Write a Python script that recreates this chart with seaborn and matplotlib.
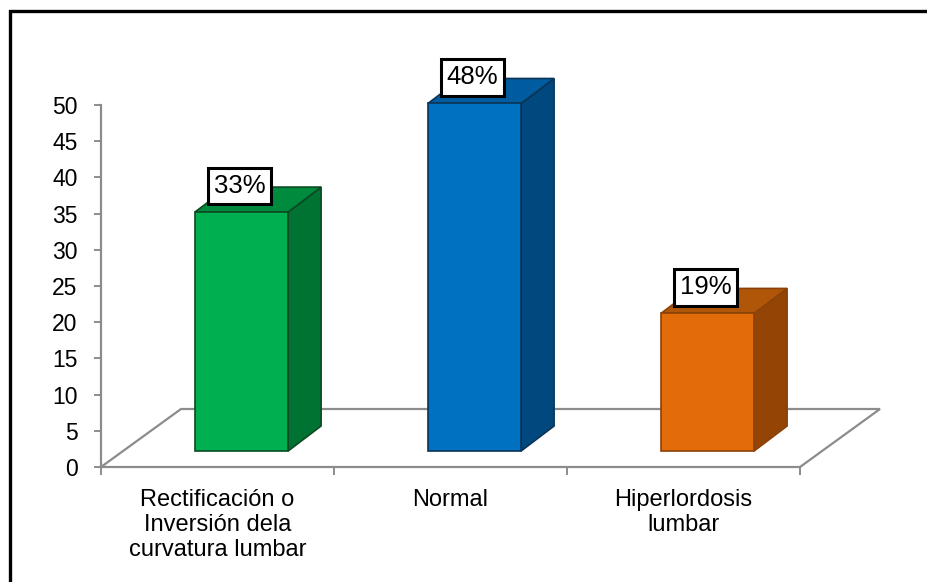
import matplotlib
matplotlib.use("Agg")
import matplotlib.pyplot as plt
import seaborn as sns
import pandas as pd
from matplotlib.patches import Polygon, Rectangle

# Data
categories = ["Rectificación o\nInversión dela\ncurvatura lumbar", "Normal", "Hiperlordosis\nlumbar"]
values = [33, 48, 19]
value_labels = ["33%", "48%", "19%"]
y_ticks = [0, 5, 10, 15, 20, 25, 30, 35, 40, 45, 50]

# Face colours for the pseudo-3D bars
front_colors = ["#00B050", "#0070C0", "#E36C0A"]
side_colors = ["#007232", "#00487E", "#944506"]
top_colors = ["#008A3D", "#005C9E", "#B05608"]
edge_colors = ["#0B4A22", "#0B3558", "#8A4208"]
axis_gray = "#8C8C8C"

sns.set_theme(style="white")
plt.rcParams["font.family"] = ["Liberation Sans", "DejaVu Sans"]

W, H = 927, 582
fig = plt.figure(figsize=(W / 100, H / 100), dpi=100)
fig.patch.set_facecolor("white")
ax = fig.add_axes([101 / W, 1 - 467 / H, 699 / W, 362 / H])

df = pd.DataFrame({"cat": categories, "val": values})
sns.barplot(data=df, x="cat", y="val", hue="cat", palette=front_colors,
            saturation=1, width=0.4, legend=False, ax=ax)

ax.set_xlim(-0.5, 2.5)
ax.set_ylim(0, 50)
ax.set_facecolor("white")

# pixel -> data unit conversion
p0 = ax.transData.transform((0, 0))
p1 = ax.transData.transform((1, 1))
pxx = p1[0] - p0[0]
pxy = p1[1] - p0[1]

# front-face shift and bar depth (pixels)
fdx, fdy = 24 / pxx, 16 / pxy
ddx, ddy = 33 / pxx, 25 / pxy
# floor depth (pixels)
flx, fly = 80 / pxx, 58 / pxy

# Floor outline
x_lo, x_hi = ax.get_xlim()
ax.plot([x_lo, x_lo + flx, x_hi + flx, x_hi], [0, fly, fly, 0],
        color=axis_gray, lw=1.6, clip_on=False, zorder=0.5, solid_joinstyle="miter")

for i, p in enumerate(ax.patches):
    x0 = p.get_x() + fdx
    w = p.get_width()
    h = p.get_height()
    y0 = fdy
    p.set_x(x0)
    p.set_y(y0)
    p.set_edgecolor(edge_colors[i])
    p.set_linewidth(1.2)
    p.set_clip_on(False)
    p.set_zorder(3)
    side = Polygon([(x0 + w, y0), (x0 + w + ddx, y0 + ddy), (x0 + w + ddx, y0 + h + ddy), (x0 + w, y0 + h)],
                   closed=True, facecolor=side_colors[i], edgecolor=edge_colors[i], lw=1.2,
                   clip_on=False, zorder=2.5)
    top = Polygon([(x0, y0 + h), (x0 + w, y0 + h), (x0 + w + ddx, y0 + h + ddy), (x0 + ddx, y0 + h + ddy)],
                  closed=True, facecolor=top_colors[i], edgecolor=edge_colors[i], lw=1.2,
                  clip_on=False, zorder=2.5)
    ax.add_patch(side)
    ax.add_patch(top)
    ax.annotate(value_labels[i], xy=(x0 + w / 2, y0 + h), xytext=(-2, 26),
                textcoords="offset pixels", ha="center", va="center", fontsize=18.5,
                color="black", zorder=5, annotation_clip=False,
                bbox=dict(boxstyle="square,pad=0.24", facecolor="white",
                          edgecolor="black", linewidth=2.2))

# Axes styling
for s in ["top", "right"]:
    ax.spines[s].set_visible(False)
for s in ["left", "bottom"]:
    ax.spines[s].set_color(axis_gray)
    ax.spines[s].set_linewidth(1.6)

ax.set_yticks(y_ticks)
ax.set_yticklabels([str(t) for t in y_ticks])
ax.tick_params(axis="y", left=True, length=5, width=1.4, color=axis_gray,
               labelsize=16.5, pad=12, labelcolor="black")

ax.set_xticks(range(len(categories)))
ax.set_xticklabels(categories)
ax.set_xticks([x_lo, 0.5, 1.5, x_hi], minor=True)
ax.tick_params(axis="x", which="major", length=0, labelsize=17, pad=16, labelcolor="black")
ax.tick_params(axis="x", which="minor", bottom=True, length=6, width=1.4, color=axis_gray)
for t in ax.get_xticklabels():
    t.set_linespacing(1.17)
ax.set_xlabel("")
ax.set_ylabel("")

# Outer frame
fig.patches.append(Rectangle((9.5 / W, -0.1), 1.2, 1.1 - 10.5 / H, transform=fig.transFigure,
                             fill=False, edgecolor="black", linewidth=2.4, zorder=10))

fig.savefig("out.png", dpi=100, facecolor="white")
